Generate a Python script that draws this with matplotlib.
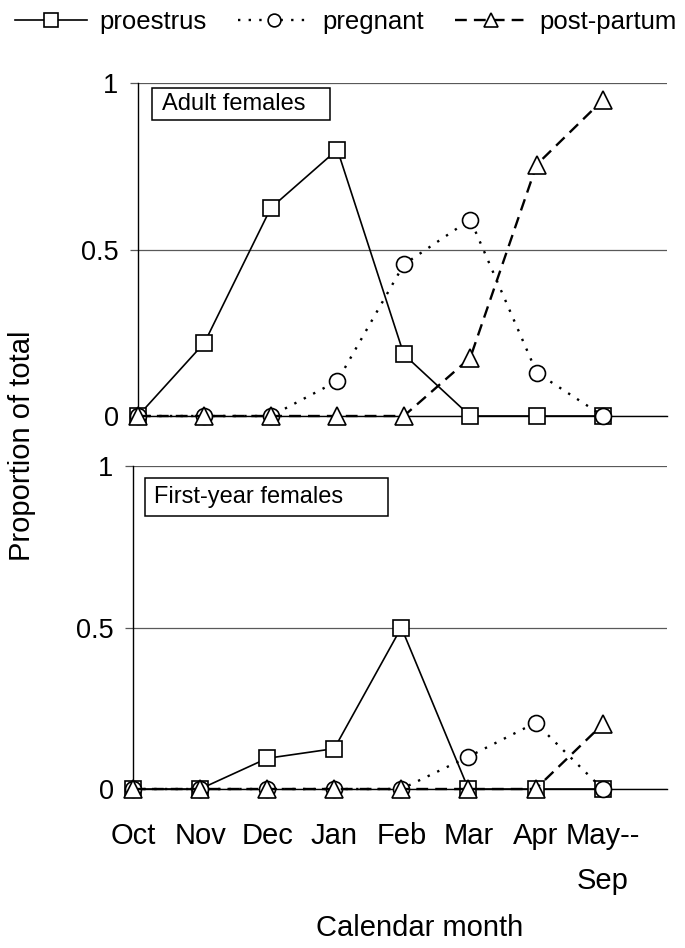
import matplotlib
matplotlib.use("Agg")
import matplotlib.pyplot as plt
import matplotlib.patches as patches
import numpy as np

plt.rcParams['font.family'] = ['Liberation Sans', 'DejaVu Sans']

months = ['Oct', 'Nov', 'Dec', 'Jan', 'Feb', 'Mar', 'Apr', 'May--\nSep']
yticks = [0, 0.5, 1]
ytick_labels = ['0', '0.5', '1']

# adult females
adult_proestrus = [0, 0.22, 0.625, 0.80, 0.185, 0, 0, 0]
adult_pregnant = [0, 0, 0, 0.105, 0.455, 0.59, 0.13, 0]
adult_postpartum = [0, 0, 0, 0, 0, 0.175, 0.755, 0.95]

# first-year females
first_proestrus = [0, 0, 0.095, 0.125, 0.5, 0, 0, 0]
first_pregnant = [0, 0, 0, 0, 0, 0.10, 0.205, 0]
first_postpartum = [0, 0, 0, 0, 0, 0, 0, 0.2]

series_names = ['proestrus', 'pregnant', 'post-partum']

fig = plt.figure(figsize=(6.85, 9.48), dpi=100)

W, H = 685.0, 948.0
ax1 = fig.add_axes([138 / W, 1 - 416 / H, 529 / W, 333 / H])
ax2 = fig.add_axes([133 / W, 1 - 789 / H, 534 / W, 323 / H])


def draw_panel(ax, pro, preg, post, label, box):
    x = np.arange(len(pro))
    l1, = ax.plot(x, pro, color='black', lw=1.2, marker='s', ms=12,
                  mfc='white', mec='black', mew=1.2, clip_on=False,
                  label=series_names[0], zorder=3)
    l2, = ax.plot(x, preg, color='black', lw=1.7, ls=(0, (1, 3.5)),
                  marker='o', ms=11.5, mfc='white', mec='black', mew=1.2,
                  clip_on=False, label=series_names[1], zorder=4)
    l3, = ax.plot(x, post, color='black', lw=1.7, ls=(0, (5, 3)),
                  marker='^', ms=12.5, mfc='white', mec='black', mew=1.2,
                  clip_on=False, label=series_names[2], zorder=5)
    ax.set_xlim(0, 7.96)
    ax.set_ylim(0, 1)
    ax.set_yticks(yticks)
    ax.set_yticklabels(ytick_labels, fontsize=19.5)
    ax.tick_params(axis='y', direction='out', length=6, width=0.9,
                   color='0.35', pad=8)
    for s in ['top', 'right']:
        ax.spines[s].set_visible(False)
    ax.spines['left'].set_linewidth(1.0)
    ax.spines['bottom'].set_linewidth(1.0)
    ax.yaxis.grid(True, color='0.35', lw=0.9)
    ax.set_axisbelow(True)
    # text box with panel title
    ax.add_patch(patches.Rectangle((box[0], box[1]), box[2], box[3],
                                   transform=ax.transAxes, fill=True,
                                   fc='white', ec='black', lw=1.1,
                                   zorder=6, clip_on=False))
    ax.text(box[0] + 0.018, box[1] + box[3] / 2, label, transform=ax.transAxes,
            fontsize=17, va='center', ha='left', zorder=7)
    return [l1, l2, l3]


handles = draw_panel(ax1, adult_proestrus, adult_pregnant, adult_postpartum,
                     'Adult females', (0.027, 0.888, 0.336, 0.096))
draw_panel(ax2, first_proestrus, first_pregnant, first_postpartum,
           'First-year females', (0.022, 0.845, 0.455, 0.118))

ax1.set_xticks(np.arange(len(months)))
ax1.tick_params(axis='x', length=0, labelbottom=False)
ax2.set_xticks(np.arange(len(months)))
ax2.set_xticklabels(months, fontsize=21, linespacing=1.75)
ax2.tick_params(axis='x', length=0, pad=24)

fig.text(22 / W, 1 - 446 / H, 'Proportion of total', rotation=90,
         fontsize=21, ha='center', va='center')
fig.text(420 / W, 1 - 928 / H, 'Calendar month', fontsize=21,
         ha='center', va='center')

fig.legend(handles=handles, loc='upper center', bbox_to_anchor=(0.505, 1.014),
           ncol=3, frameon=False, fontsize=18.5, handlelength=2.8,
           handletextpad=0.5, columnspacing=1.2, markerscale=0.8)

fig.savefig('out.png', dpi=100)
